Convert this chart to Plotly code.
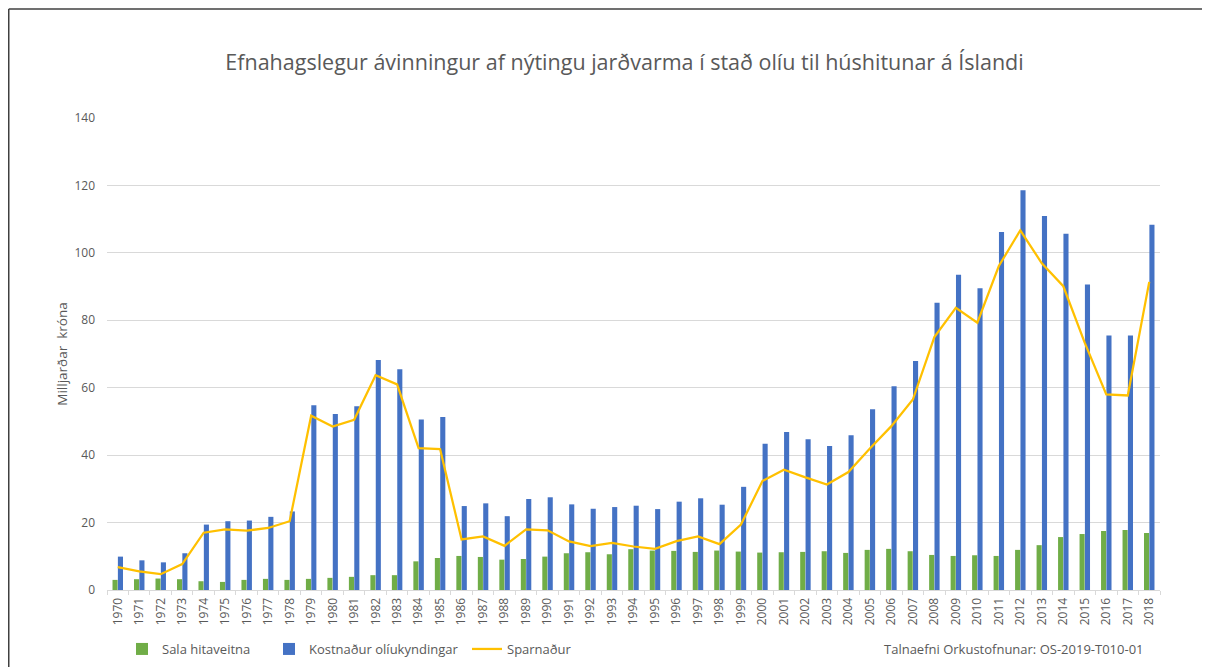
import plotly.graph_objects as go

years = [str(y) for y in range(1970, 2019)]

sala_hitaveitna = [3.0, 3.2, 3.4, 3.2, 2.6, 2.4, 3.0, 3.3, 3.0, 3.3,
                   3.6, 3.9, 4.4, 4.4, 8.5, 9.5, 10.1, 9.8, 9.0, 9.2,
                   9.9, 10.9, 11.2, 10.6, 12.1, 11.7, 11.6, 11.3, 11.7, 11.4,
                   11.1, 11.2, 11.3, 11.5, 11.0, 11.9, 12.2, 11.5, 10.4, 10.1,
                   10.3, 10.1, 11.9, 13.3, 15.7, 16.6, 17.5, 17.8, 16.9]

kostnadur_oliukyndingar = [9.9, 8.8, 8.2, 10.9, 19.4, 20.4, 20.6, 21.7, 23.3, 54.8,
                           52.2, 54.5, 68.2, 65.5, 50.6, 51.3, 24.9, 25.7, 21.9, 27.0,
                           27.5, 25.4, 24.1, 24.6, 25.0, 24.0, 26.2, 27.2, 25.3, 30.6,
                           43.4, 46.9, 44.7, 42.7, 45.9, 53.6, 60.4, 67.9, 85.2, 93.5,
                           89.5, 106.2, 118.6, 110.9, 105.7, 90.6, 75.5, 75.5, 108.3]

sparnadur = [6.8, 5.5, 4.7, 7.7, 17.0, 18.0, 17.6, 18.4, 20.4, 51.7,
             48.5, 50.5, 63.7, 61.0, 42.1, 41.8, 15.0, 15.9, 13.1, 18.0,
             17.7, 14.4, 13.0, 14.0, 12.9, 12.2, 14.5, 15.9, 13.6, 19.4,
             32.3, 35.7, 33.4, 31.3, 35.0, 42.0, 48.6, 56.5, 75.0, 83.7,
             79.3, 96.1, 106.7, 96.9, 90.1, 73.3, 58.0, 57.7, 91.4]

FONT = "Open Sans"
TXT = "#595959"

# plot-area geometry in figure pixels
W, H = 1210, 667
L, R, T, B = 99, 58, 110, 84
PW, PH = W - L - R, H - T - B


def px_x(px):
    return (px - L) / PW


def px_y(py):
    return (H - B - py) / PH


fig = go.Figure()
fig.add_trace(go.Bar(x=years, y=sala_hitaveitna, name="Sala hitaveitna",
                     marker=dict(color="#70AD47", line=dict(width=0)), legend="legend"))
fig.add_trace(go.Bar(x=years, y=kostnadur_oliukyndingar, name="Kostnaður olíukyndingar",
                     marker=dict(color="#4472C4", line=dict(width=0)), legend="legend2"))
fig.add_trace(go.Scatter(x=years, y=sparnadur, name="Sparnaður", mode="lines",
                         line=dict(color="#FFC000", width=2.25), legend="legend3"))

leg_common = dict(orientation="h", xanchor="left", yanchor="middle", y=px_y(641),
                  font=dict(family=FONT, size=13, color=TXT), bgcolor="rgba(0,0,0,0)")

fig.update_layout(
    width=W, height=H,
    paper_bgcolor="white", plot_bgcolor="white",
    margin=dict(l=L, r=R, t=T, b=B),
    barmode="group", bargap=0.5, bargroupgap=0.05,
    font=dict(family=FONT, color=TXT, size=12),
    title=dict(text="Efnahagslegur ávinningur af nýtingu jarðvarma í stað olíu til húshitunar á Íslandi",
               x=616.5 / W, xanchor="center", y=1 - 54 / H, yanchor="middle",
               font=dict(family=FONT, size=21.5, color=TXT)),
    showlegend=True,
    legend=dict(x=px_x(114), **leg_common),
    legend2=dict(x=px_x(261), **leg_common),
    legend3=dict(x=px_x(459), **leg_common),
    xaxis=dict(type="category", tickangle=-90, tickfont=dict(size=12, color=TXT),
               showline=True, linecolor="#D9D9D9", linewidth=1,
               ticks="outside", tickson="boundaries", ticklen=4, tickcolor="#D9D9D9",
               ticklabelstandoff=2, showgrid=False),
    yaxis=dict(range=[0, 140], tickvals=[0, 20, 40, 60, 80, 100, 120, 140],
               showgrid=True, gridcolor="#D9D9D9", gridwidth=1, zeroline=False,
               tickfont=dict(size=12, color=TXT), ticks="", ticklabelstandoff=11,
               title=dict(text="Milljarðar  króna", font=dict(size=13.5, color=TXT), standoff=3)),
    shapes=[
        dict(type="line", xref="paper", yref="paper",
             x0=px_x(0.75), x1=px_x(W + 5), y0=px_y(0.75), y1=px_y(0.75),
             line=dict(color="#404040", width=1.5)),
        dict(type="line", xref="paper", yref="paper",
             x0=px_x(0.75), x1=px_x(0.75), y0=px_y(0.75), y1=px_y(H + 5),
             line=dict(color="#404040", width=1.5)),
    ],
    annotations=[
        dict(text="Talnaefni Orkustofnunar: OS-2019-T010-01", xref="paper", yref="paper",
             x=px_x(1138), xanchor="right", y=px_y(642), yanchor="middle",
             showarrow=False, font=dict(family=FONT, size=13, color=TXT)),
    ],
)

fig.write_html("out.html")
